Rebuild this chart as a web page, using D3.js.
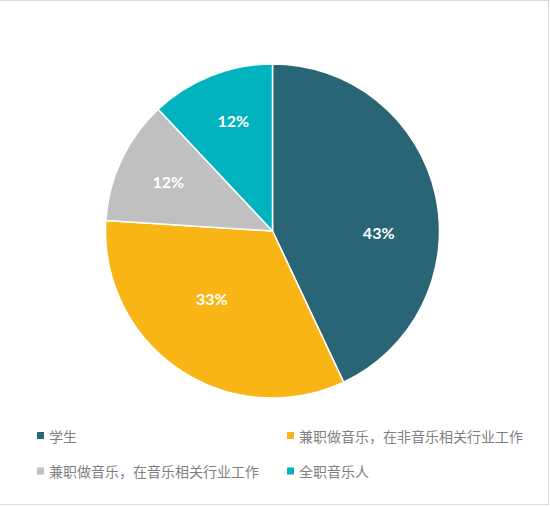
<!DOCTYPE html>
<html>
<head>
<meta charset="utf-8">
<script src="https://cdn.jsdelivr.net/npm/d3@7/dist/d3.min.js"></script>
<style>
  html, body { margin: 0; padding: 0; background: #fff; }
  svg { display: block; }
</style>
</head>
<body>
<svg id="chart" width="550" height="506"></svg>
<script>
// ---- data ----
const categories = ["学生", "兼职做音乐，在非音乐相关行业工作", "兼职做音乐，在音乐相关行业工作", "全职音乐人"];
const values = [43, 33, 12, 12];
const labels = ["43%", "33%", "12%", "12%"];
const colors = ["#2a6575", "#f9b515", "#c0c0c0", "#00b3be"];

// ---- layout ----
const W = 550, H = 506;
const cx = 272.5, cy = 231, R = 167;
// label placement tweaks (angle offset in degrees, radius fraction) mimicking the original
const labelLayout = [[13.5, 0.636], [7.7, 0.545], [0.4, 0.692], [2.1, 0.705]];

const svg = d3.select("#chart");

// frame
svg.append("line").attr("x1", 0).attr("x2", 549).attr("y1", 0.5).attr("y2", 0.5).attr("stroke", "#d9d9d9");
svg.append("line").attr("x1", 548.5).attr("x2", 548.5).attr("y1", 0).attr("y2", 505).attr("stroke", "#d9d9d9");
svg.append("line").attr("x1", 0).attr("x2", 549).attr("y1", 504.5).attr("y2", 504.5).attr("stroke", "#d9d9d9");

const pie = d3.pie().sort(null).value(d => d)(values);
const arc = d3.arc().innerRadius(0).outerRadius(R);

const g = svg.append("g").attr("transform", `translate(${cx},${cy})`);
g.selectAll("path.slice")
  .data(pie)
  .join("path")
  .attr("class", "slice")
  .attr("d", arc)
  .attr("fill", (d, i) => colors[i])
  .attr("stroke", "#ffffff")
  .attr("stroke-width", 1.5)
  .attr("stroke-linejoin", "round");

g.selectAll("text.lbl")
  .data(pie)
  .join("text")
  .attr("class", "lbl")
  .each(function (d, i) {
    const a = (d.startAngle + d.endAngle) / 2 + labelLayout[i][0] * Math.PI / 180;
    const r = R * labelLayout[i][1];
    d3.select(this)
      .attr("x", r * Math.sin(a))
      .attr("y", -r * Math.cos(a));
  })
  .attr("text-anchor", "middle")
  .attr("dominant-baseline", "central")
  .attr("fill", "#ffffff")
  .attr("font-family", "Lato, 'Open Sans', sans-serif")
  .attr("font-weight", "bold")
  .attr("font-size", "16px")
  .text((d, i) => labels[i]);

// legend
const legendCols = [37, 287];
const legendRows = [435.5, 471];
const leg = svg.append("g");
categories.forEach((c, i) => {
  const x = legendCols[i % 2], y = legendRows[Math.floor(i / 2)];
  leg.append("rect")
    .attr("x", x).attr("y", y - 3.5)
    .attr("width", 7).attr("height", 7)
    .attr("fill", colors[i]);
  leg.append("text")
    .attr("x", x + 12).attr("y", y)
    .attr("dominant-baseline", "central")
    .attr("fill", "#7f7f7f")
    .attr("font-family", "'Noto Sans CJK SC', 'Noto Sans', sans-serif")
    .attr("font-size", "14px")
    .text(c);
});
</script>
</body>
</html>
